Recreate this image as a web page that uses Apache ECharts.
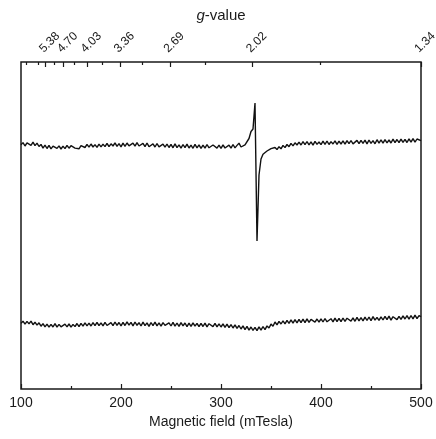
<!DOCTYPE html>
<html>
<head>
<meta charset="utf-8">
<script src="https://cdn.jsdelivr.net/npm/echarts@6/dist/echarts.min.js"></script>
<style>
  html, body { margin: 0; padding: 0; background: #ffffff; }
  #chart { width: 436px; height: 439px; }
</style>
</head>
<body>
<div id="chart"></div>
<script>
// Magnetic field sweep (mT), 2 mT steps from 100 to 500
const fields = [
  100,102,104,106,108,110,112,114,116,118,
  120,122,124,126,128,130,132,134,136,138,
  140,142,144,146,148,150,152,154,156,158,
  160,162,164,166,168,170,172,174,176,178,
  180,182,184,186,188,190,192,194,196,198,
  200,202,204,206,208,210,212,214,216,218,
  220,222,224,226,228,230,232,234,236,238,
  240,242,244,246,248,250,252,254,256,258,
  260,262,264,266,268,270,272,274,276,278,
  280,282,284,286,288,290,292,294,296,298,
  300,302,304,306,308,310,312,314,316,318,
  320,322,324,326,328,330,332,334,336,338,
  340,342,344,346,348,350,352,354,356,358,
  360,362,364,366,368,370,372,374,376,378,
  380,382,384,386,388,390,392,394,396,398,
  400,402,404,406,408,410,412,414,416,418,
  420,422,424,426,428,430,432,434,436,438,
  440,442,444,446,448,450,452,454,456,458,
  460,462,464,466,468,470,472,474,476,478,
  480,482,484,486,488,490,492,494,496,498,
  500
];

// Upper spectrum (arbitrary units, offset for stacking)
const spectrumUpper = [
  244.2,246.4,243.0,246.1,247.2,243.6,246.8,243.4,245.9,242.5,
  244.6,240.9,243.8,240.5,243.6,240.2,242.9,244.0,240.6,243.1,
  240.0,242.9,240.4,243.6,240.8,243.3,244.0,240.9,242.7,240.2,
  243.4,244.3,241.5,244.6,241.8,245.0,242.0,244.4,241.6,244.8,
  242.1,244.9,242.4,245.6,242.3,245.2,243.0,246.1,242.6,245.3,
  242.2,245.8,242.7,246.0,243.1,242.4,245.9,242.8,246.3,243.0,
  242.5,245.6,242.4,246.0,242.3,241.9,245.1,242.0,245.5,242.2,
  241.7,244.9,241.8,245.0,241.5,244.6,241.2,245.1,241.4,244.2,
  240.9,244.5,241.3,244.9,241.0,243.8,240.7,244.6,241.1,244.2,
  240.6,243.9,240.8,244.5,241.2,240.5,244.0,244.6,240.9,243.8,
  240.6,244.1,241.0,240.4,243.9,240.8,244.5,241.1,243.6,245.8,
  242.0,241.6,244.2,244.0,250.5,257.5,260.0,286.0,148.0,214.0,
  230.0,234.8,235.6,238.0,236.9,240.4,238.6,241.5,239.4,242.3,
  240.2,243.6,241.4,244.5,242.3,245.6,243.1,246.2,244.0,246.8,
  244.0,247.3,244.3,247.5,244.1,247.2,243.9,247.6,244.6,247.0,
  244.3,247.8,244.6,248.0,244.5,247.4,245.0,248.2,244.7,247.9,
  245.0,248.1,244.8,248.4,245.3,248.5,245.1,244.9,248.6,245.4,
  248.7,245.6,248.8,245.1,249.0,245.7,248.4,245.2,249.3,245.9,
  249.1,245.9,249.4,246.2,249.0,246.0,249.8,246.4,249.5,246.3,
  249.9,246.6,249.6,246.5,250.2,246.9,250.4,246.8,250.0,250.6,
  248.4
];

// Lower spectrum (arbitrary units)
const spectrumLower = [
  65.6,67.8,64.9,67.6,65.1,67.9,64.3,66.8,63.9,66.2,
  62.8,65.4,62.1,64.9,61.8,64.7,62.0,65.3,61.9,64.6,
  62.2,61.7,64.8,62.1,65.0,61.9,64.6,62.4,65.5,62.3,
  65.6,62.8,66.1,63.2,65.9,63.0,66.3,63.4,66.6,63.3,
  66.2,63.1,66.7,63.5,62.8,66.4,63.3,67.0,63.6,66.5,
  63.2,66.6,63.5,67.1,63.8,66.7,63.1,67.0,63.7,66.3,
  63.0,66.8,63.4,66.2,62.7,66.5,63.3,66.9,63.2,66.1,
  62.9,66.4,63.6,62.5,66.2,63.0,66.6,62.8,66.0,62.6,
  66.3,63.1,66.0,62.4,65.9,62.7,66.2,62.8,65.7,62.3,
  65.6,62.5,65.9,62.2,65.3,66.1,62.4,65.6,62.1,65.2,
  62.0,65.1,61.7,64.8,61.3,64.4,61.0,64.1,60.6,63.5,
  60.0,63.1,59.4,62.6,58.9,62.0,58.6,61.7,58.4,62.1,
  58.9,62.5,59.3,63.1,61.0,64.9,62.8,67.0,64.1,67.6,
  65.0,68.2,65.1,68.6,65.6,69.1,65.9,69.4,66.2,69.7,
  66.4,69.8,66.3,70.1,66.6,69.6,70.4,66.9,70.0,66.8,
  70.2,67.0,70.5,67.2,66.8,70.3,67.1,70.9,67.4,70.6,
  67.3,71.0,67.6,70.8,71.5,67.9,71.2,67.7,71.6,68.2,
  71.3,68.1,71.8,68.5,72.0,68.3,72.4,68.9,71.7,68.6,
  72.2,69.0,72.6,69.3,72.9,68.8,72.3,73.0,69.4,72.7,
  69.6,73.1,70.0,73.3,69.9,73.5,70.2,73.8,70.4,73.4,
  72.3
];

// Bottom axis ticks (mT)
const fieldTickMin = 100;
const fieldTickMax = 500;
const fieldTickStep = 100;

// Top axis: g-values, placed at B = (h·nu / muB) / g
const gTicks = [6.05, 5.38, 4.70, 4.03, 3.36, 2.69, 2.02, 1.34];
const gMinorTicks = [6.385, 5.715, 5.04, 4.365, 3.695, 3.025, 2.355, 1.68];
const gFieldProduct = 670; // g · B in mT

const gTickFields = gTicks.map(g => gFieldProduct / g);
const gMinorFields = gMinorTicks.map(g => gFieldProduct / g);

const upperData = fields.map((b, i) => [b, spectrumUpper[i]]);
const lowerData = fields.map((b, i) => [b, spectrumLower[i]]);

const FONT = '"Liberation Sans", Arial, Helvetica, sans-serif';
const INK = '#1a1a1a';

const chart = echarts.init(document.getElementById('chart'), null, { renderer: 'canvas' });

chart.setOption({
  animation: false,
  backgroundColor: '#ffffff',
  textStyle: { fontFamily: FONT, color: INK },
  grid: {
    left: 21, right: 15, top: 62, bottom: 50,
    outerBoundsMode: 'none',
    containLabel: false,
    show: true, borderColor: '#1a1a1a', borderWidth: 1.5,
    backgroundColor: 'transparent'
  },
  xAxis: [
    {
      type: 'value',
      position: 'bottom',
      min: fieldTickMin, max: fieldTickMax, interval: fieldTickStep,
      name: 'Magnetic field (mTesla)',
      nameLocation: 'middle',
      nameGap: 23,
      nameTextStyle: { fontFamily: FONT, fontSize: 14, color: INK },
      axisLine: { show: false },
      axisTick: { show: true, inside: true, length: 5, lineStyle: { color: INK, width: 1.2 } },
      minorTick: { show: true, splitNumber: 2, length: 3, lineStyle: { color: INK, width: 1.2 } },
      axisLabel: { fontFamily: FONT, fontSize: 14, color: INK, margin: 7, showMinLabel: true, showMaxLabel: true },
      splitLine: { show: false },
      minorSplitLine: { show: false }
    },
    {
      type: 'value',
      position: 'top',
      min: fieldTickMin, max: fieldTickMax,
      name: '{i|g}-value',
      nameLocation: 'middle',
      nameGap: 32,
      nameTextStyle: {
        fontFamily: FONT, fontSize: 15, color: INK,
        rich: { i: { fontFamily: FONT, fontSize: 15, fontStyle: 'italic', color: INK } }
      },
      axisLine: { show: false },
      axisTick: {
        show: true, inside: true, length: 5,
        customValues: gTickFields,
        lineStyle: { color: INK, width: 1.2 }
      },
      axisLabel: {
        show: true,
        customValues: gTickFields,
        rotate: -45,
        align: 'left',
        verticalAlign: 'bottom',
        margin: 7,
        hideOverlap: false,
        fontFamily: FONT, fontSize: 12, color: INK,
        formatter: function (v) {
          let best = 0;
          gTickFields.forEach((f, i) => { if (Math.abs(f - v) < Math.abs(gTickFields[best] - v)) best = i; });
          return gTicks[best].toFixed(2);
        }
      },
      splitLine: { show: false }
    },
    {
      type: 'value',
      position: 'top',
      min: fieldTickMin, max: fieldTickMax,
      axisLine: { show: false },
      axisTick: {
        show: true, inside: true, length: 3,
        customValues: gMinorFields,
        lineStyle: { color: INK, width: 1.2 }
      },
      axisLabel: { show: false },
      splitLine: { show: false }
    }
  ],
  yAxis: {
    type: 'value',
    min: 0, max: 327,
    show: false,
    splitLine: { show: false }
  },
  series: [
    {
      type: 'line',
      data: upperData,
      xAxisIndex: 0,
      showSymbol: false,
      symbol: 'none',
      lineStyle: { color: '#111111', width: 1.4 }
    },
    {
      type: 'line',
      data: lowerData,
      xAxisIndex: 0,
      showSymbol: false,
      symbol: 'none',
      lineStyle: { color: '#111111', width: 1.4 }
    }
  ]
});
</script>
</body>
</html>
